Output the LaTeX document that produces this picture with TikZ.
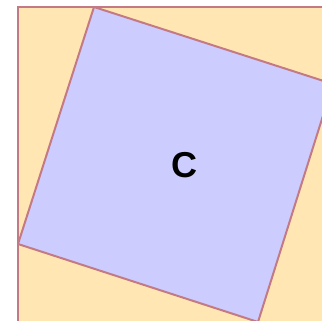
\documentclass[tikz,border=0pt]{standalone}
\usepackage{fontspec}
\setmainfont{Liberation Sans}
\definecolor{sqfill}{RGB}{255,230,179}
\definecolor{cfill}{RGB}{204,204,255}
\definecolor{edge}{RGB}{196,122,133}
\begin{document}
\begin{tikzpicture}[
    x=1pt, y=-1pt,
    bigsquare/.style={
        draw=edge,
        fill=sqfill,
        line width=2
    },
    innersquare/.style={
        draw=edge,
        fill=cfill,
        line width=2,
        line join=round
    },
    lbl/.style={
        font=\fontsize{36}{40}\selectfont\bfseries
    }
]

    % Cornice
    \clip (0, 0) rectangle (322, 321);

    % Quadrato grande di lato a+b
    \draw[bigsquare] (18, 7) rectangle (340, 330);

    % Vertici del quadrato inclinato
    \coordinate (top) at (94, 7);
    \coordinate (right) at (333, 84);
    \coordinate (bottom) at (258, 322);
    \coordinate (left) at (18, 244);

    % Quadrato di lato c
    \draw[innersquare] (top) -- (right) -- (bottom) -- (left) -- cycle;

    % Etichetta
    \node[lbl] (clabel) at (184, 165) {C};

\end{tikzpicture}
\end{document}
